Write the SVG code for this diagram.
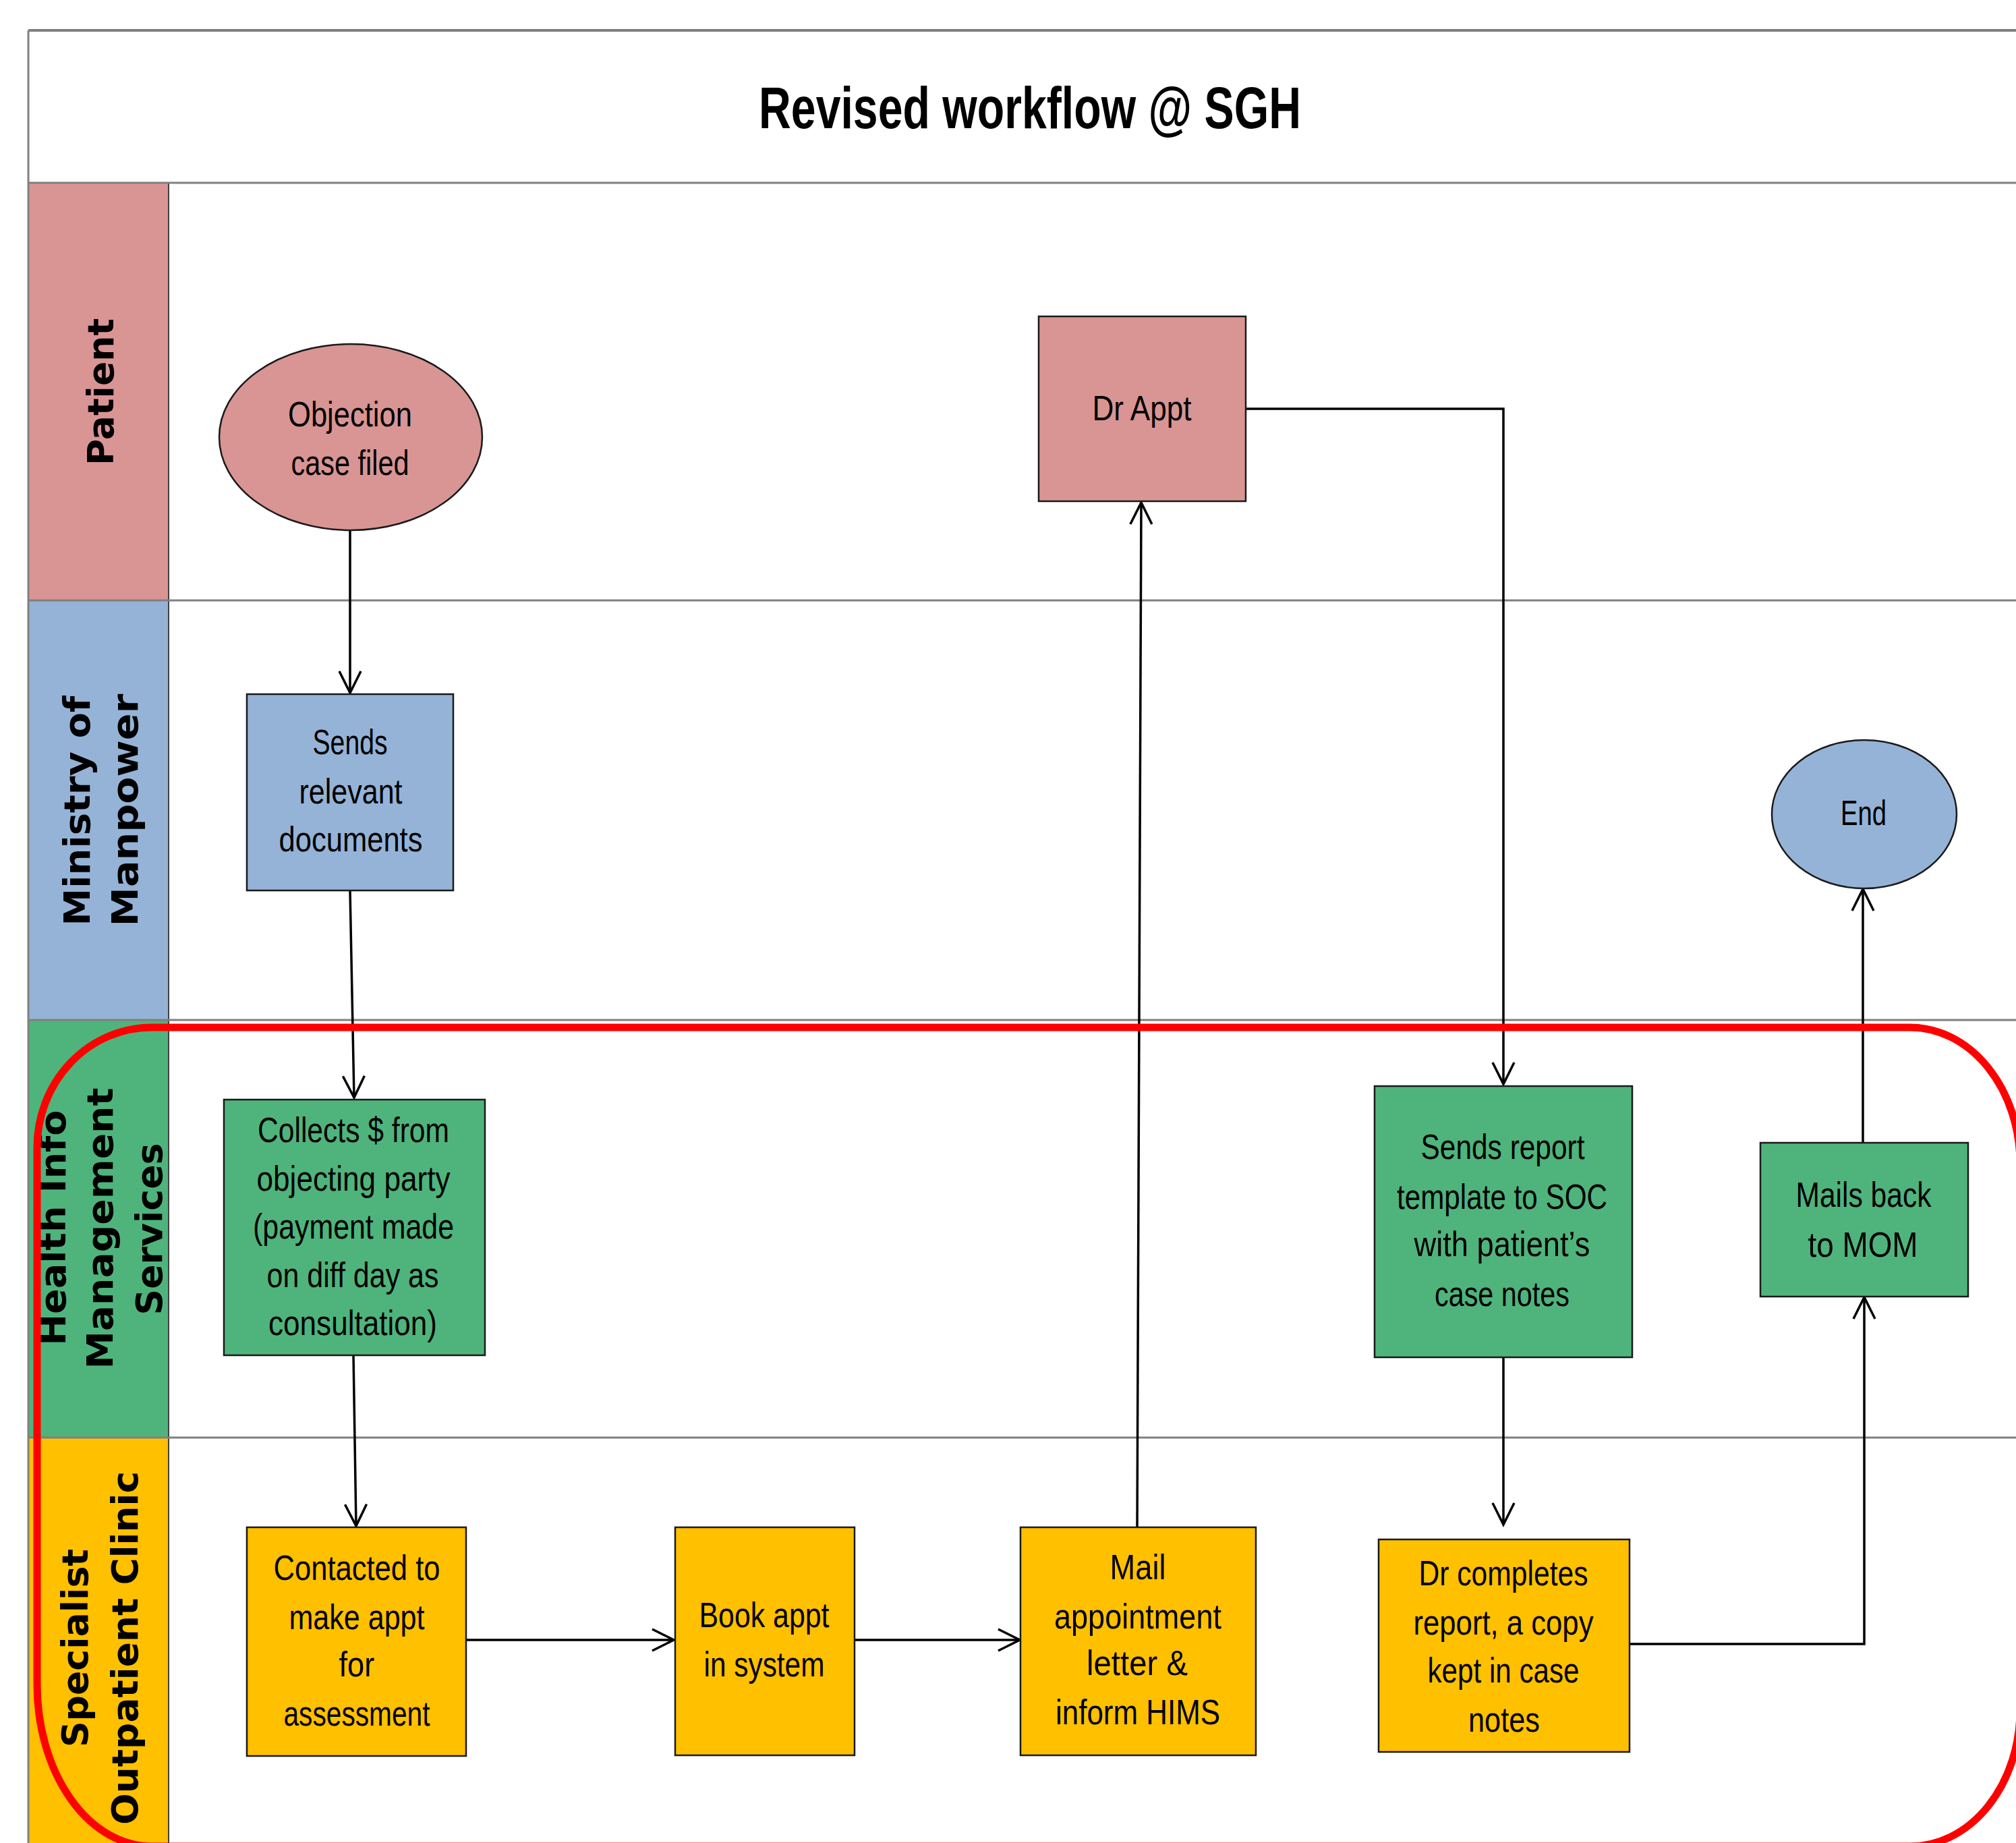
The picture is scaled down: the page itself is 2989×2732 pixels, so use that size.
<svg xmlns="http://www.w3.org/2000/svg" width="2989" height="2732" viewBox="0 0 2989 2732">
<defs>
<style>
.lane{stroke:#404040;stroke-width:2}
.sep{stroke:#808080;stroke-width:3;fill:none}
.hdr{font-family:"DejaVu Sans",Verdana,sans-serif;font-weight:bold;font-size:54px;fill:#000;text-anchor:middle}
.lbl{font-family:"Liberation Sans",Arial,sans-serif;font-size:52px;fill:#000;text-anchor:middle}
.node{stroke:#1a1a1a;stroke-width:2.5}
.pink{fill:#D99594}
.blue{fill:#95B3D7}
.green{fill:#4FB47C}
.yellow{fill:#FFC000}
.conn{stroke:#000;stroke-width:3.5;fill:none;marker-end:url(#arr)}
</style>
<marker id="arr" markerUnits="userSpaceOnUse" markerWidth="44" markerHeight="44" viewBox="-38 -22 44 44" refX="0" refY="0" orient="auto">
<path d="M-32,-16 L0,0 L-32,16" fill="none" stroke="#000" stroke-width="3.5"/>
</marker>
</defs>
<rect x="0" y="0" width="2989" height="2732" fill="#fff"/>

<g id="title">
<line x1="42" y1="45" x2="2989" y2="45" stroke="#808080" stroke-width="4"/>
<text x="1527" y="190" font-family="'Liberation Sans',Arial,sans-serif" font-weight="bold" font-size="87" text-anchor="middle" textLength="804" lengthAdjust="spacingAndGlyphs">Revised workflow @ SGH</text>
</g>

<g id="lanes">
<rect class="lane pink" x="42" y="271" width="208" height="619"/>
<rect class="lane blue" x="42" y="890" width="208" height="622"/>
<rect class="lane green" x="42" y="1512" width="208" height="619"/>
<rect class="lane yellow" x="42" y="2131" width="208" height="640"/>
<line x1="42" y1="45" x2="42" y2="2732" stroke="#808080" stroke-width="3"/>
<line class="sep" x1="42" y1="271" x2="2989" y2="271"/>
<line class="sep" x1="42" y1="890" x2="2989" y2="890"/>
<line class="sep" x1="42" y1="1512" x2="2989" y2="1512"/>
<line class="sep" x1="42" y1="2131" x2="2989" y2="2131"/>
<text class="hdr" transform="translate(168,581) rotate(-90)" textLength="218" lengthAdjust="spacingAndGlyphs">Patient</text>
<text class="hdr" transform="translate(133,1202) rotate(-90)" textLength="341" lengthAdjust="spacingAndGlyphs">Ministry of</text>
<text class="hdr" transform="translate(204,1201) rotate(-90)" textLength="345" lengthAdjust="spacingAndGlyphs">Manpower</text>
<text class="hdr" transform="translate(97,1820) rotate(-90)" textLength="349" lengthAdjust="spacingAndGlyphs">Health Info</text>
<text class="hdr" transform="translate(167,1821) rotate(-90)" textLength="417" lengthAdjust="spacingAndGlyphs">Management</text>
<text class="hdr" transform="translate(240,1822) rotate(-90)" textLength="255" lengthAdjust="spacingAndGlyphs">Services</text>
<text class="hdr" transform="translate(130,2443) rotate(-90)" textLength="294" lengthAdjust="spacingAndGlyphs">Specialist</text>
<text class="hdr" transform="translate(204,2443) rotate(-90)" textLength="524" lengthAdjust="spacingAndGlyphs">Outpatient Clinic</text>
</g>

<g id="connectors">
<path class="conn" d="M519,785 L519,1027"/>
<path class="conn" d="M519,1320 L525,1627"/>
<path class="conn" d="M524,2009 L528,2262"/>
<path class="conn" d="M690,2431 L999,2431"/>
<path class="conn" d="M1267,2431 L1512,2431"/>
<path class="conn" d="M1686,2265 L1692,745"/>
<path class="conn" d="M1847,606 L2229,606 L2229,1607"/>
<path class="conn" d="M2229,2011 L2229,2260"/>
<path class="conn" d="M2416,2437 L2764,2437 L2764,1923"/>
<path class="conn" d="M2762,1694 L2762,1318"/>
</g>

<g id="n-objection">
<ellipse class="node pink" cx="520" cy="648" rx="195" ry="138"/>
<text class="lbl" x="519" y="632" textLength="184" lengthAdjust="spacingAndGlyphs">Objection</text>
<text class="lbl" x="519" y="704" textLength="175" lengthAdjust="spacingAndGlyphs">case filed</text>
</g>
<g id="n-drappt">
<rect class="node pink" x="1540" y="469" width="307" height="274"/>
<text class="lbl" x="1693" y="623" textLength="147" lengthAdjust="spacingAndGlyphs">Dr Appt</text>
</g>
<g id="n-sendsdocs">
<rect class="node blue" x="366" y="1029" width="306" height="291"/>
<text class="lbl" x="519" y="1118" textLength="111" lengthAdjust="spacingAndGlyphs">Sends</text>
<text class="lbl" x="520" y="1191" textLength="153" lengthAdjust="spacingAndGlyphs">relevant</text>
<text class="lbl" x="520" y="1262" textLength="213" lengthAdjust="spacingAndGlyphs">documents</text>
</g>
<g id="n-end">
<ellipse class="node blue" cx="2764" cy="1207" rx="137" ry="110"/>
<text class="lbl" x="2763" y="1223" textLength="68" lengthAdjust="spacingAndGlyphs">End</text>
</g>
<g id="n-collects">
<rect class="node green" x="332" y="1630" width="387" height="379"/>
<text class="lbl" x="524" y="1693" textLength="284" lengthAdjust="spacingAndGlyphs">Collects $ from</text>
<text class="lbl" x="524" y="1765" textLength="287" lengthAdjust="spacingAndGlyphs">objecting party</text>
<text class="lbl" x="524" y="1836" textLength="298" lengthAdjust="spacingAndGlyphs">(payment made</text>
<text class="lbl" x="523" y="1908" textLength="255" lengthAdjust="spacingAndGlyphs">on diff day as</text>
<text class="lbl" x="523" y="1979" textLength="250" lengthAdjust="spacingAndGlyphs">consultation)</text>
</g>
<g id="n-sendsreport">
<rect class="node green" x="2038" y="1610" width="382" height="402"/>
<text class="lbl" x="2228" y="1718" textLength="243" lengthAdjust="spacingAndGlyphs">Sends report</text>
<text class="lbl" x="2227" y="1792" textLength="312" lengthAdjust="spacingAndGlyphs">template to SOC</text>
<text class="lbl" x="2227" y="1862" textLength="261" lengthAdjust="spacingAndGlyphs">with patient’s</text>
<text class="lbl" x="2227" y="1936" textLength="200" lengthAdjust="spacingAndGlyphs">case notes</text>
</g>
<g id="n-mailsback">
<rect class="node green" x="2610" y="1694" width="308" height="228"/>
<text class="lbl" x="2763" y="1789" textLength="201" lengthAdjust="spacingAndGlyphs">Mails back</text>
<text class="lbl" x="2762" y="1863" textLength="163" lengthAdjust="spacingAndGlyphs">to MOM</text>
</g>
<g id="n-contacted">
<rect class="node yellow" x="366" y="2264" width="325" height="339"/>
<text class="lbl" x="529" y="2342" textLength="247" lengthAdjust="spacingAndGlyphs">Contacted to</text>
<text class="lbl" x="529" y="2415" textLength="201" lengthAdjust="spacingAndGlyphs">make appt</text>
<text class="lbl" x="529" y="2485" textLength="53" lengthAdjust="spacingAndGlyphs">for</text>
<text class="lbl" x="529" y="2558" textLength="217" lengthAdjust="spacingAndGlyphs">assessment</text>
</g>
<g id="n-bookappt">
<rect class="node yellow" x="1001" y="2264" width="266" height="338"/>
<text class="lbl" x="1133" y="2412" textLength="193" lengthAdjust="spacingAndGlyphs">Book appt</text>
<text class="lbl" x="1133" y="2485" textLength="179" lengthAdjust="spacingAndGlyphs">in system</text>
</g>
<g id="n-mailappt">
<rect class="node yellow" x="1513" y="2264" width="349" height="338"/>
<text class="lbl" x="1687" y="2341" textLength="83" lengthAdjust="spacingAndGlyphs">Mail</text>
<text class="lbl" x="1687" y="2414" textLength="248" lengthAdjust="spacingAndGlyphs">appointment</text>
<text class="lbl" x="1686" y="2483" textLength="150" lengthAdjust="spacingAndGlyphs">letter &amp;</text>
<text class="lbl" x="1687" y="2556" textLength="244" lengthAdjust="spacingAndGlyphs">inform HIMS</text>
</g>
<g id="n-drcompletes">
<rect class="node yellow" x="2044" y="2282" width="372" height="315"/>
<text class="lbl" x="2229" y="2350" textLength="251" lengthAdjust="spacingAndGlyphs">Dr completes</text>
<text class="lbl" x="2229" y="2423" textLength="267" lengthAdjust="spacingAndGlyphs">report, a copy</text>
<text class="lbl" x="2229" y="2494" textLength="225" lengthAdjust="spacingAndGlyphs">kept in case</text>
<text class="lbl" x="2230" y="2567" textLength="106" lengthAdjust="spacingAndGlyphs">notes</text>
</g>

<g id="highlight">
<path d="M225,1523 H2832 A163,202 0 0 1 2995,1725 V2535 A163,202 0 0 1 2832,2737 H225 A170,240 0 0 1 55,2497 V1701 A170,178 0 0 1 225,1523 Z" fill="none" stroke="#FF0000" stroke-width="11"/>
</g>
</svg>
